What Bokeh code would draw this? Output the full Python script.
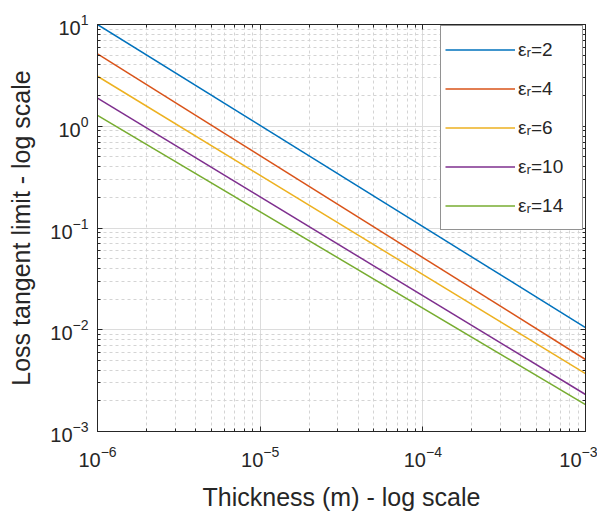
from bokeh.plotting import figure
from bokeh.models import Range1d, FixedTicker, LogAxis, Legend, LegendItem, LogTickFormatter
from bokeh.embed import file_html
from bokeh.resources import INLINE

# Data (log-log straight lines)
thickness = [1e-6, 1e-3]
er2 = [10.0, 0.0105]
er4 = [5.15, 0.0051]
er6 = [3.1, 0.0037]
er10 = [1.89, 0.00231]
er14 = [1.28, 0.00184]
labels = ["εᵣ=2", "εᵣ=4", "εᵣ=6", "εᵣ=10", "εᵣ=14"]
colors = ["#0072BD", "#D95319", "#EDB120", "#7E2F8E", "#77AC30"]
x_major = [1e-6, 1e-5, 1e-4, 1e-3]
y_major = [1e-3, 1e-2, 1e-1, 1e0, 1e1]

def minors(majors):
    out = []
    for m in majors[:-1]:
        for k in range(2, 10):
            out.append(m * k)
    return out

FONT = "Liberation Sans"
AX = "#262626"

p = figure(frame_width=488, frame_height=407,
           x_axis_type="log", y_axis_type="log",
           x_range=Range1d(1e-6, 1e-3), y_range=Range1d(1e-3, 10),
           output_backend="svg", toolbar_location=None,
           min_border_left=97, min_border_right=12,
           min_border_top=24, min_border_bottom=79)
p.background_fill_color = "white"
p.border_fill_color = "white"
p.outline_line_color = AX
p.outline_line_width = 1

xt = FixedTicker(ticks=x_major, minor_ticks=minors(x_major))
yt = FixedTicker(ticks=y_major, minor_ticks=minors(y_major))

for ax, t in ((p.xaxis[0], xt), (p.yaxis[0], yt)):
    ax.ticker = t
    ax.formatter = LogTickFormatter()
    ax.major_label_text_font = FONT
    ax.major_label_text_font_size = "20px"
    ax.major_label_text_color = AX
    ax.axis_label_text_font = FONT
    ax.axis_label_text_font_size = "25px"
    ax.axis_label_text_font_style = "normal"
    ax.axis_label_text_color = AX
    ax.axis_line_color = AX
    ax.major_tick_line_color = AX
    ax.minor_tick_line_color = AX
    ax.major_tick_in = 5
    ax.major_tick_out = 0
    ax.minor_tick_in = 3
    ax.minor_tick_out = 0

p.xaxis.axis_label = "Thickness (m) - log scale"
p.yaxis.axis_label = "Loss tangent limit - log scale"
p.xaxis.major_label_standoff = 14
p.yaxis.major_label_standoff = 9
p.xaxis.axis_label_standoff = 13
p.yaxis.axis_label_standoff = 12

# box-style axes on top and right (ticks only)
top = LogAxis(ticker=xt, major_label_text_font_size="1px", major_label_text_color=None,
              axis_line_color=AX,
              major_tick_line_color=AX, minor_tick_line_color=AX,
              major_tick_in=5, major_tick_out=0, minor_tick_in=3, minor_tick_out=0,
              major_label_standoff=0)
right = LogAxis(ticker=yt, major_label_text_font_size="1px", major_label_text_color=None,
                axis_line_color=AX,
                major_tick_line_color=AX, minor_tick_line_color=AX,
                major_tick_in=5, major_tick_out=0, minor_tick_in=3, minor_tick_out=0,
                major_label_standoff=0)
p.add_layout(top, "above")
p.add_layout(right, "right")

for g, t in ((p.xgrid[0], xt), (p.ygrid[0], yt)):
    g.ticker = t
    g.grid_line_color = "#dcdcdc"
    g.grid_line_width = 1
    g.minor_grid_line_color = "#d4d4d4"
    g.minor_grid_line_dash = "3 3"
    g.minor_grid_line_width = 1

series = [er2, er4, er6, er10, er14]
items = []
for ys, lab, c in zip(series, labels, colors):
    r = p.line(thickness, ys, line_color=c, line_width=1.5)
    items.append(LegendItem(label=lab, renderers=[r]))

legend = Legend(items=items, location=(343, 201), orientation="vertical",
                padding=4, spacing=0, margin=0,
                glyph_width=70, glyph_height=39, label_height=39, label_width=60,
                label_standoff=3,
                label_text_font=FONT, label_text_font_size="19px", label_text_color=AX,
                border_line_color=AX, border_line_width=1,
                background_fill_color="white", background_fill_alpha=1)
p.add_layout(legend, "center")

open("out.html", "w").write(file_html(p, INLINE))
